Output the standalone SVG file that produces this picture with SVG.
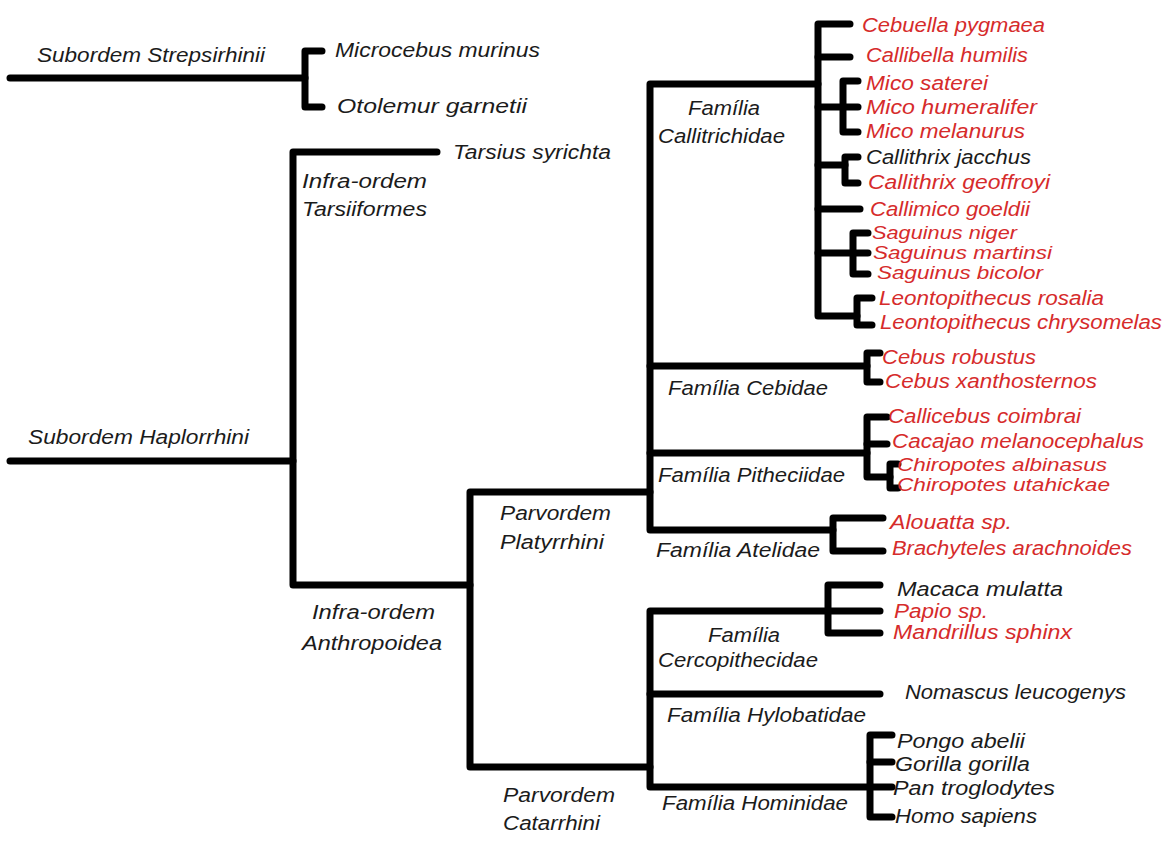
<svg xmlns="http://www.w3.org/2000/svg" width="1168" height="844" viewBox="0 0 1168 844">
<style>
text{font-family:"Liberation Sans",Arial,sans-serif;font-style:italic;font-size:20px;fill:#1b1b1b}
.r{fill:#d62b2b}
.s{font-size:18px}
.c path{fill:none;stroke:#000;stroke-width:7;stroke-linejoin:round;stroke-linecap:round}
</style>
<rect width="1168" height="844" fill="#fff"/>
<g id="connectors" class="c">
<path d="M10,78 H305"/>
<path d="M322,51 H305 V107 H322"/>
<path d="M10,461 H293"/>
<path d="M437,152 H293 V585 H470"/>
<path d="M650,492 H470 V767 H650"/>
<path d="M818,84 H650 V530 H833"/>
<path d="M650,366 H867"/>
<path d="M650,453 H867"/>
<path d="M850,24 H818 V316 H857"/>
<path d="M818,57 H850"/>
<path d="M818,107 H843"/>
<path d="M818,165 H845"/>
<path d="M818,209 H860"/>
<path d="M818,253 H853"/>
<path d="M858,81 H843 V132 H858"/>
<path d="M843,107 H858"/>
<path d="M858,157 H845 V183 H858"/>
<path d="M868,233 H853 V274 H868"/>
<path d="M853,253 H868"/>
<path d="M872,298 H857 V325 H872"/>
<path d="M880,353 H867 V382 H880"/>
<path d="M887,417 H867 V477 H890"/>
<path d="M867,444 H887"/>
<path d="M898,464 H890 V488 H898"/>
<path d="M883,518 H833 V551 H883"/>
<path d="M828,611 H650 V787 H870"/>
<path d="M650,694 H880"/>
<path d="M880,585 H828 V633 H880"/>
<path d="M828,611 H880"/>
<path d="M892,735 H870 V817 H892"/>
<path d="M870,762 H892"/>
<path d="M870,787 H892"/>
</g>
<g id="n-strepsirhinii"><text x="37" y="62" textLength="228" lengthAdjust="spacingAndGlyphs">Subordem Strepsirhinii</text></g>
<g id="n-microcebus"><text x="335" y="57" textLength="205" lengthAdjust="spacingAndGlyphs">Microcebus murinus</text></g>
<g id="n-otolemur"><text x="337" y="113" textLength="190" lengthAdjust="spacingAndGlyphs">Otolemur garnetii</text></g>
<g id="n-tarsius"><text x="453" y="159" textLength="158" lengthAdjust="spacingAndGlyphs">Tarsius syrichta</text></g>
<g id="n-tarsiiformes"><text x="302" y="188" textLength="125" lengthAdjust="spacingAndGlyphs">Infra-ordem</text><text x="302" y="216" textLength="125" lengthAdjust="spacingAndGlyphs">Tarsiiformes</text></g>
<g id="n-haplorrhini"><text x="28" y="444" textLength="221" lengthAdjust="spacingAndGlyphs">Subordem Haplorrhini</text></g>
<g id="n-anthropoidea"><text x="312" y="619" textLength="123" lengthAdjust="spacingAndGlyphs">Infra-ordem</text><text x="302" y="650" textLength="140" lengthAdjust="spacingAndGlyphs">Anthropoidea</text></g>
<g id="n-platyrrhini"><text x="500" y="520" textLength="111" lengthAdjust="spacingAndGlyphs">Parvordem</text><text x="500" y="549" textLength="104" lengthAdjust="spacingAndGlyphs">Platyrrhini</text></g>
<g id="n-catarrhini"><text x="503" y="802" textLength="112" lengthAdjust="spacingAndGlyphs">Parvordem</text><text x="503" y="830" textLength="97" lengthAdjust="spacingAndGlyphs">Catarrhini</text></g>
<g id="n-callitrichidae"><text x="688" y="115" textLength="72" lengthAdjust="spacingAndGlyphs">Família</text><text x="658" y="143" textLength="127" lengthAdjust="spacingAndGlyphs">Callitrichidae</text></g>
<g id="n-cebidae"><text x="668" y="395" textLength="160" lengthAdjust="spacingAndGlyphs">Família Cebidae</text></g>
<g id="n-pitheciidae"><text x="658" y="482" textLength="187" lengthAdjust="spacingAndGlyphs">Família Pitheciidae</text></g>
<g id="n-atelidae"><text x="656" y="557" textLength="164" lengthAdjust="spacingAndGlyphs">Família Atelidae</text></g>
<g id="n-cercopithecidae"><text x="708" y="642" textLength="72" lengthAdjust="spacingAndGlyphs">Família</text><text x="658" y="667" textLength="160" lengthAdjust="spacingAndGlyphs">Cercopithecidae</text></g>
<g id="n-hylobatidae"><text x="667" y="722" textLength="199" lengthAdjust="spacingAndGlyphs">Família Hylobatidae</text></g>
<g id="n-hominidae"><text x="662" y="810" textLength="186" lengthAdjust="spacingAndGlyphs">Família Hominidae</text></g>
<g id="l-cebuella"><text class="r" x="862" y="32" textLength="183" lengthAdjust="spacingAndGlyphs">Cebuella pygmaea</text></g>
<g id="l-callibella"><text class="r" x="866" y="62" textLength="162" lengthAdjust="spacingAndGlyphs">Callibella humilis</text></g>
<g id="l-mico-saterei"><text class="r" x="866" y="90" textLength="122" lengthAdjust="spacingAndGlyphs">Mico saterei</text></g>
<g id="l-mico-humeralifer"><text class="r" x="866" y="114" textLength="171" lengthAdjust="spacingAndGlyphs">Mico humeralifer</text></g>
<g id="l-mico-melanurus"><text class="r" x="866" y="138" textLength="159" lengthAdjust="spacingAndGlyphs">Mico melanurus</text></g>
<g id="l-callithrix-jacchus"><text x="866" y="164" textLength="165" lengthAdjust="spacingAndGlyphs">Callithrix jacchus</text></g>
<g id="l-callithrix-geoffroyi"><text class="r" x="868" y="189" textLength="182" lengthAdjust="spacingAndGlyphs">Callithrix geoffroyi</text></g>
<g id="l-callimico"><text class="r" x="870" y="216" textLength="160" lengthAdjust="spacingAndGlyphs">Callimico goeldii</text></g>
<g id="l-saguinus-niger"><text class="r s" x="872" y="239" textLength="145" lengthAdjust="spacingAndGlyphs">Saguinus niger</text></g>
<g id="l-saguinus-martinsi"><text class="r s" x="873" y="259" textLength="179" lengthAdjust="spacingAndGlyphs">Saguinus martinsi</text></g>
<g id="l-saguinus-bicolor"><text class="r s" x="877" y="279" textLength="166" lengthAdjust="spacingAndGlyphs">Saguinus bicolor</text></g>
<g id="l-leonto-rosalia"><text class="r" x="879" y="305" textLength="225" lengthAdjust="spacingAndGlyphs">Leontopithecus rosalia</text></g>
<g id="l-leonto-chrysomelas"><text class="r" x="880" y="329" textLength="282" lengthAdjust="spacingAndGlyphs">Leontopithecus chrysomelas</text></g>
<g id="l-cebus-robustus"><text class="r" x="882" y="364" textLength="154" lengthAdjust="spacingAndGlyphs">Cebus robustus</text></g>
<g id="l-cebus-xanthosternos"><text class="r" x="885" y="388" textLength="212" lengthAdjust="spacingAndGlyphs">Cebus xanthosternos</text></g>
<g id="l-callicebus"><text class="r" x="888" y="423" textLength="193" lengthAdjust="spacingAndGlyphs">Callicebus coimbrai</text></g>
<g id="l-cacajao"><text class="r" x="892" y="448" textLength="252" lengthAdjust="spacingAndGlyphs">Cacajao melanocephalus</text></g>
<g id="l-chiropotes-albinasus"><text class="r s" x="897" y="471" textLength="210" lengthAdjust="spacingAndGlyphs">Chiropotes albinasus</text></g>
<g id="l-chiropotes-utahickae"><text class="r s" x="897" y="491" textLength="213" lengthAdjust="spacingAndGlyphs">Chiropotes utahickae</text></g>
<g id="l-alouatta"><text class="r" x="890" y="529" textLength="122" lengthAdjust="spacingAndGlyphs">Alouatta sp.</text></g>
<g id="l-brachyteles"><text class="r" x="892" y="555" textLength="240" lengthAdjust="spacingAndGlyphs">Brachyteles arachnoides</text></g>
<g id="l-macaca"><text x="897" y="596" textLength="166" lengthAdjust="spacingAndGlyphs">Macaca mulatta</text></g>
<g id="l-papio"><text class="r" x="894" y="618" textLength="94" lengthAdjust="spacingAndGlyphs">Papio sp.</text></g>
<g id="l-mandrillus"><text class="r" x="893" y="639" textLength="179" lengthAdjust="spacingAndGlyphs">Mandrillus sphinx</text></g>
<g id="l-nomascus"><text x="905" y="699" textLength="221" lengthAdjust="spacingAndGlyphs">Nomascus leucogenys</text></g>
<g id="l-pongo"><text x="897" y="748" textLength="128" lengthAdjust="spacingAndGlyphs">Pongo abelii</text></g>
<g id="l-gorilla"><text x="895" y="771" textLength="135" lengthAdjust="spacingAndGlyphs">Gorilla gorilla</text></g>
<g id="l-pan"><text x="893" y="795" textLength="162" lengthAdjust="spacingAndGlyphs">Pan troglodytes</text></g>
<g id="l-homo"><text x="895" y="823" textLength="142" lengthAdjust="spacingAndGlyphs">Homo sapiens</text></g>
</svg>
